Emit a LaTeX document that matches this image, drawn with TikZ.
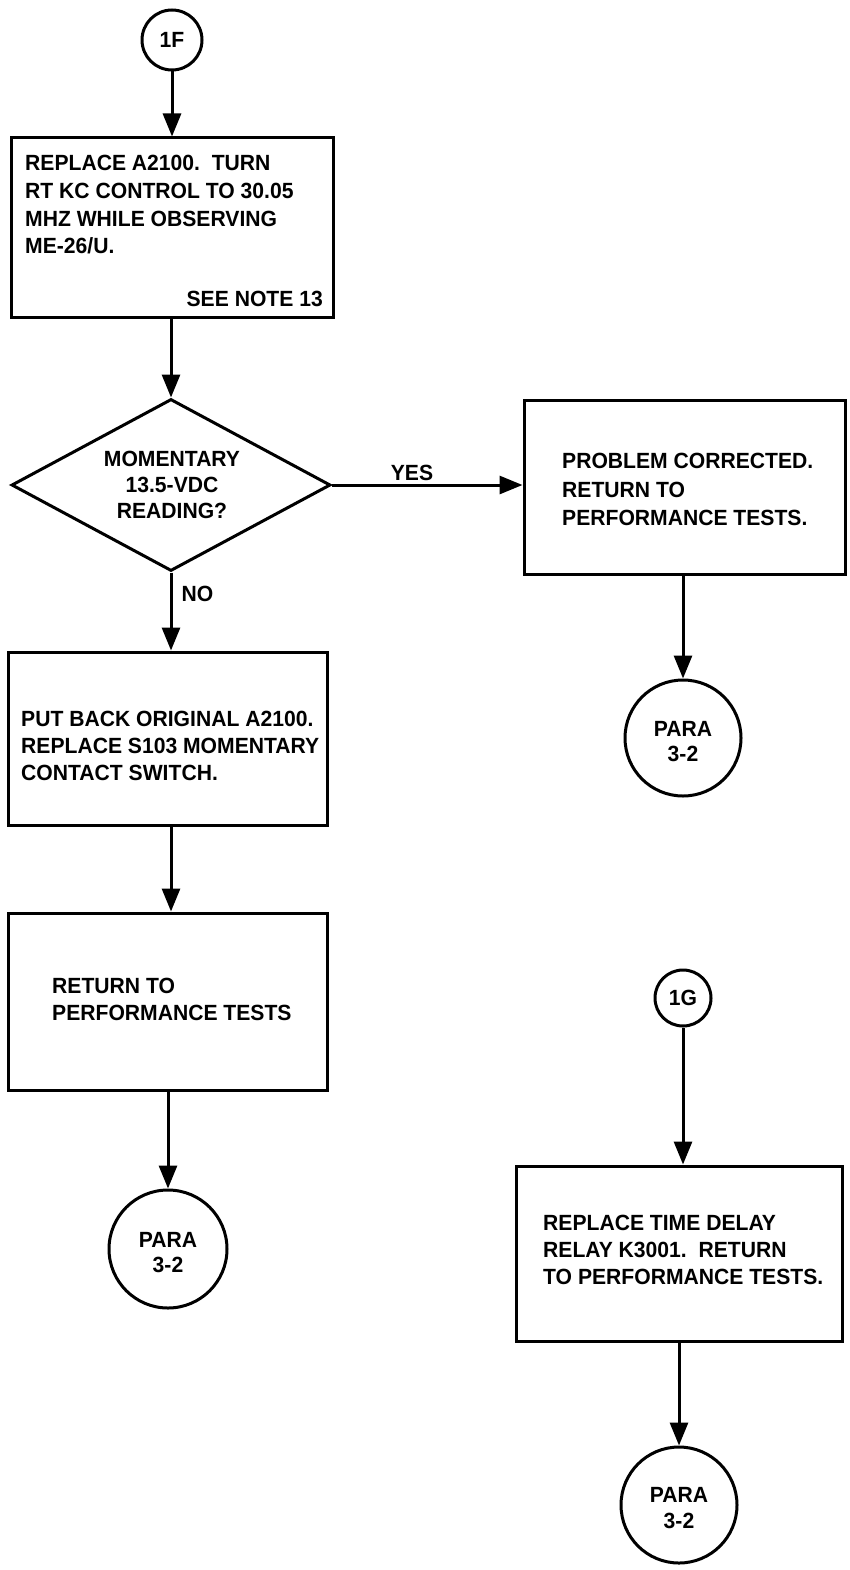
\documentclass[tikz,border=0pt]{standalone}
\usepackage{fontspec}
\setmainfont{Liberation Sans}[FakeStretch=0.96]
\usetikzlibrary{arrows.meta,shapes.geometric}
\newcommand{\flowfont}{\fontsize{22}{25}\selectfont\bfseries}
\tikzset{
  lw/.style={line width=3pt},
  box/.style={draw, lw, rectangle, inner sep=0pt},
  decision/.style={draw, lw, diamond, inner sep=0pt},
  conncirc/.style={draw, lw, circle, inner sep=0pt, align=center, font=\flowfont},
  arr/.style={draw, lw, -{Triangle[length=23pt,width=18pt]}},
  txt/.style={anchor=base west, inner sep=0pt, font=\flowfont},
  ctxt/.style={anchor=base, inner sep=0pt, font=\flowfont},
}
\begin{document}
\begin{tikzpicture}[x=1pt,y=-1pt]
\useasboundingbox (0,0) rectangle (849,1570);

% connectors (circles)
\node[conncirc, minimum size=60pt] (c1f) at (172,40) {1F};
\node[conncirc, minimum size=56pt] (c1g) at (683,998) {1G};
\node[conncirc, minimum size=116pt] (p1) at (683,738) {};
\node[conncirc, minimum size=118pt] (p2) at (168,1249) {};
\node[conncirc, minimum size=116pt] (p3) at (679,1505) {};
\node[ctxt] (p1a) at (683,736) {PARA};
\node[ctxt] (p1b) at (683,761) {3-2};
\node[ctxt] (p2a) at (168,1247) {PARA};
\node[ctxt] (p2b) at (168,1272) {3-2};
\node[ctxt] (p3a) at (679,1502) {PARA};
\node[ctxt] (p3b) at (679,1528) {3-2};

% boxes
\node[box, minimum width=322pt, minimum height=179pt] (b1) at (172,227.5) {};
\node[decision, minimum width=319pt, minimum height=172pt] (d1) at (171,485) {};
\node[box, minimum width=321pt, minimum height=174pt] (b2) at (684.5,487) {};
\node[box, minimum width=319pt, minimum height=173pt] (b3) at (167.5,738.5) {};
\node[box, minimum width=319pt, minimum height=177pt] (b4) at (167.5,1001.5) {};
\node[box, minimum width=326pt, minimum height=175pt] (b5) at (679,1253.5) {};

% box texts
\node[txt] (t1a) at (25,171) {REPLACE A2100.\ \ TURN};
\node[txt] (t1b) at (25,199) {RT KC CONTROL TO 30.05};
\node[txt] (t1c) at (25,227) {MHZ WHILE OBSERVING};
\node[txt] (t1d) at (25,254) {ME-26/U.};
\node[txt, anchor=base east] (t1e) at (323,306) {SEE NOTE 13};

\node[ctxt] (tda) at (172,466) {MOMENTARY};
\node[ctxt] (tdb) at (172,492) {13.5-VDC};
\node[ctxt] (tdc) at (172,518) {READING?};

\node[txt] (t2a) at (562,468) {PROBLEM CORRECTED.};
\node[txt] (t2b) at (562,497) {RETURN TO};
\node[txt] (t2c) at (562,525) {PERFORMANCE TESTS.};

\node[txt] (t3a) at (21,726) {PUT BACK ORIGINAL A2100.};
\node[txt] (t3b) at (21,753) {REPLACE S103 MOMENTARY};
\node[txt] (t3c) at (21,780) {CONTACT SWITCH.};

\node[txt] (t4a) at (52,993) {RETURN TO};
\node[txt] (t4b) at (52,1020) {PERFORMANCE TESTS};

\node[txt] (t5a) at (543,1230) {REPLACE TIME DELAY};
\node[txt] (t5b) at (543,1257) {RELAY K3001.\ \ RETURN};
\node[txt] (t5c) at (543,1284) {TO PERFORMANCE TESTS.};

% arrows
\draw[arr] (c1f.south) -- (c1f.south |- b1.north);
\draw[arr] (b1.south -| d1.north) -- (d1.north);
\draw[arr] (d1.east) -- (d1.east -| b2.west) node[ctxt, pos=0.42, above=3pt] (yes) {YES};
\draw[arr] (d1.south) -- (d1.south |- b3.north) node[txt, pos=0.28, anchor=west, xshift=9pt] (no) {NO};
\draw[arr] (b2.south -| p1.north) -- (p1.north);
\draw[arr] (b3.south -| d1.south) -- (d1.south |- b4.north);
\draw[arr] (b4.south -| p2.north) -- (p2.north);
\draw[arr] (c1g.south) -- (c1g.south |- b5.north);
\draw[arr] (b5.south -| p3.north) -- (p3.north);
\end{tikzpicture}
\end{document}
